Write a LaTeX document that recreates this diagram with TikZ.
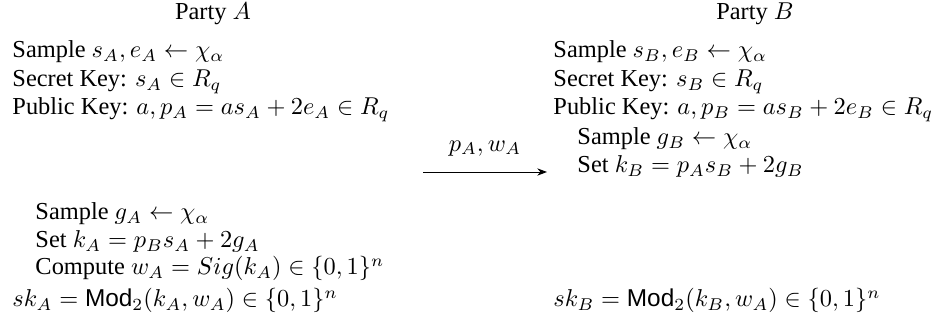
\documentclass[tikz,border=0pt]{standalone}
\usepackage[no-math]{fontspec}
\setmainfont{Liberation Serif}
\newfontfamily\modfont{Liberation Sans}
\usetikzlibrary{arrows.meta}
\newcommand{\Modop}{\mbox{\modfont Mod}}
\tikzset{
  line/.style={anchor=base west, inner sep=0pt},
  head/.style={anchor=base, inner sep=0pt},
  msg/.style={-{Stealth[length=4pt,width=3pt]}},
}
\begin{document}
\begin{tikzpicture}[x=0.41pt,y=-0.41pt]
  \useasboundingbox (0,0) rectangle (937,332);
  \node[head] (partyA) at (213,20) {Party $A$};
  \node[head] (partyB) at (755,20) {Party $B$};
  % key generation
  \node[line] (sampA) at (12,58) {Sample $s_A, e_A \leftarrow \chi_\alpha$};
  \node[line] (secA) at (12,87) {Secret Key: $s_A \in R_q$};
  \node[line] (pubA) at (12,115) {Public Key: $a, p_A = as_A + 2e_A \in R_q$};
  \node[line] (sampB) at (553,58) {Sample $s_B, e_B \leftarrow \chi_\alpha$};
  \node[line] (secB) at (553,87) {Secret Key: $s_B \in R_q$};
  \node[line] (pubB) at (553,115) {Public Key: $a, p_B = as_B + 2e_B \in R_q$};
  % message
  \coordinate (msgL) at (423,172);
  \coordinate (msgR) at (547,172);
  \draw[msg] (msgL) -- node[above=3pt] (msgT) {$p_A, w_A$} (msgR);
  \node[line] (gB) at (577,145) {Sample $g_B \leftarrow \chi_\alpha$};
  \node[line] (kB) at (577,173) {Set $k_B = p_A s_B + 2g_B$};
  % A side
  \node[line] (gA) at (35,220) {Sample $g_A \leftarrow \chi_\alpha$};
  \node[line] (kA) at (35,248) {Set $k_A = p_B s_A + 2g_A$};
  \node[line] (wA) at (35,275) {Compute $w_A = Sig(k_A) \in \{0,1\}^n$};
  % shared keys
  \node[line] (skA) at (12,307) {$sk_A = \Modop_2(k_A, w_A) \in \{0,1\}^n$};
  \node[line] (skB) at (553,307) {$sk_B = \Modop_2(k_B, w_A) \in \{0,1\}^n$};
\end{tikzpicture}
\end{document}
